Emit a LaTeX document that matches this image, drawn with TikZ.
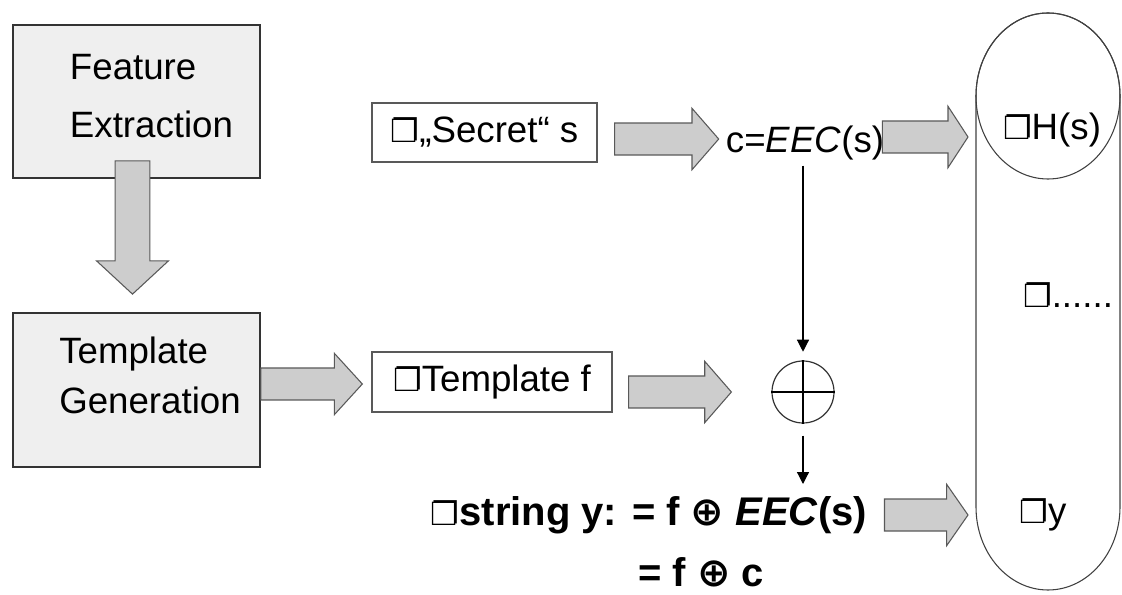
\documentclass[tikz,border=0pt]{standalone}
\usepackage{fontspec}
\setmainfont{Liberation Sans}
\newfontfamily\dingfont{DejaVu Sans}
\usepackage{xcolor}
\usepackage{tikz}
\usetikzlibrary{calc, arrows.meta}

\definecolor{boxgray}{HTML}{EFEFEF}
\definecolor{arrowgray}{HTML}{CDCDCD}
\newcommand{\sqbox}{{\dingfont\fontsize{24}{24}\selectfont ❐}}
\newcommand{\xorsym}{{\dingfont\bfseries ⊕}}

\tikzset{
    txt/.style={inner sep=0pt, font=\fontsize{27.5}{33}\selectfont},
    boldtxt/.style={inner sep=0pt, font=\fontsize{30}{36}\selectfont\bfseries},
    bigbox/.style={draw=black!80, fill=boxgray, line width=1.3pt, inner sep=0pt},
    smallbox/.style={txt, draw=black!65, line width=1pt},
    hblock/.style={draw=black!65, fill=arrowgray, line width=0.8pt,
        to path={let \p1=(\tikztostart), \p2=(\tikztotarget) in
            (\x1,\y1+12pt) -- (\x2-#1,\y1+12pt) -- (\x2-#1,\y1+23pt) -- (\x2,\y1)
            -- (\x2-#1,\y1-23pt) -- (\x2-#1,\y1-12pt) -- (\x1,\y1-12pt) -- cycle}},
    hblock/.default=20pt,
    vblock/.style={draw=black!65, fill=arrowgray, line width=0.8pt,
        to path={let \p1=(\tikztostart), \p2=(\tikztotarget) in
            (\x1-13pt,\y1) -- (\x1-13pt,\y2+25pt) -- (\x1-27pt,\y2+25pt) -- (\x1,\y2)
            -- (\x1+27pt,\y2+25pt) -- (\x1+13pt,\y2+25pt) -- (\x1+13pt,\y1) -- cycle}},
    thinarrow/.style={line width=0.9pt, -{Triangle[length=9pt, width=9pt]}}
}

\begin{document}
\begin{tikzpicture}[x=0.75pt, y=-0.75pt]
        \useasboundingbox (0, 0) rectangle (1122, 595);

        % left column
        \node [bigbox, minimum width=185.25pt, minimum height=114.75pt] (fe) at (136.5, 101.5) {};
        \node [txt, align=left, font=\fontsize{27.5}{43.5}\selectfont] (fetxt) at (151.5, 96) {Feature\\Extraction};
        \node [bigbox, minimum width=185.25pt, minimum height=115.5pt] (tg) at (136.5, 390) {};
        \node [txt, align=left, font=\fontsize{27.5}{38}\selectfont] (tgtxt) at (150, 375.5) {Template\\Generation};

        % middle
        \node [smallbox, minimum width=168.75pt, minimum height=44.25pt] (sec) at (484.5, 132.5) {\sqbox„Secret“ s};
        \node [smallbox, minimum width=180pt, minimum height=45pt] (tf) at (492, 382) {\sqbox Template f};
        \node [txt] (ceec) at (805, 143) {c=\textit{EEC}(s)};
        \node [circle, draw=black!80, line width=0.9pt, minimum size=46.5pt, inner sep=0pt] (xor) at (803, 392) {};
        \draw [line width=0.9pt] (xor.north) -- (xor.south) (xor.west) -- (xor.east);
        \node [boldtxt] (ystr) at (649, 515) {\sqbox string y: = f \xorsym{} \textit{EEC}(s)};
        \node [boldtxt] (yeq) at (701, 572) {= f \xorsym{} c};

        % right capsule
        \draw [black!75, line width=0.8pt] (976, 96) -- (976, 507) arc (180:0:72 and 83) -- (1120, 96) arc (0:-180:72 and 83);
        \draw [black!75, line width=0.8pt] (1048, 96) ellipse (72 and 83);
        \node [txt] (hs) at (1052, 130) {\sqbox H(s)};
        \node [txt] (dots) at (1068, 295) {\sqbox ......};
        \node [txt] (yy) at (1043, 515) {\sqbox y};
        \coordinate (inHs) at (968, 137);
        \coordinate (inY) at (968, 516);

        % block arrows
        \draw [vblock] ([xshift=-3pt, yshift=13.5pt]fe.south) to ([xshift=-3pt, yshift=13.5pt]tg.north);
        \draw [hblock=21pt] ([yshift=4.5pt]tg.east) to ([xshift=-6.75pt]tf.west);
        \draw [hblock] ([xshift=12pt]tf.east |- xor.west) to ([xshift=-30pt]xor.west);
        \draw [hblock] ([xshift=12.75pt, yshift=-4.9pt]sec.east) to ([xshift=-5.25pt]ceec.west);
        \draw [hblock=15pt] ([xshift=-1.5pt, yshift=4.5pt]ceec.east) to (inHs);
        \draw [hblock=16pt] ([xshift=12.75pt]ystr.east) to (inY);

        % thin arrows
        \draw [thinarrow, shorten <=4pt, shorten >=6.5pt] (ceec.south -| xor.north) -- (xor.north);
        \draw [thinarrow, shorten <=9pt, shorten >=9pt] (xor.south) -- (ystr.north -| xor.south);
\end{tikzpicture}
\end{document}
